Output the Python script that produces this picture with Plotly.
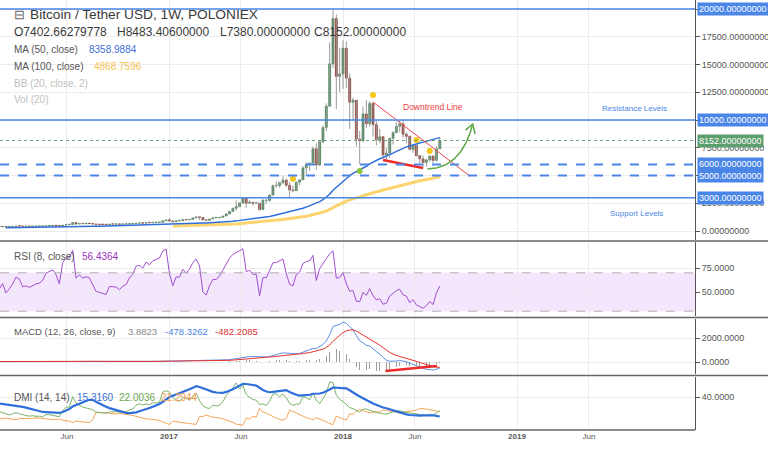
import numpy as np
import pandas as pd
import plotly.graph_objects as go

# ---------------- data (weekly POLONIEX BTC/USDT, weeks start on Monday) ----------------
first_week = "2015-02-16"
first_open = 235.0

closes_2015 = [244, 260, 274, 282, 260, 252, 260, 236, 222, 226, 240, 241, 237, 238, 230, 224, 232, 245, 250, 261,
               293, 276, 289, 282, 264, 260, 226, 229, 238, 230, 231, 234, 240, 245, 270, 284, 314, 385, 330, 325,
               370, 390, 435, 440, 420, 430]
highs_2015 = [248, 280, 298, 298, 296, 272, 262, 262, 240, 238, 242, 246, 245, 242, 241, 230, 237, 253, 254, 272,
              311, 294, 294, 298, 287, 272, 264, 232, 240, 245, 236, 236, 242, 252, 275, 298, 335, 460, 395, 345,
              378, 420, 468, 470, 458, 440]
lows_2015 = [230, 235, 258, 268, 256, 236, 240, 232, 214, 218, 216, 232, 232, 233, 226, 221, 222, 231, 240, 248,
             262, 270, 273, 278, 257, 255, 195, 198, 225, 228, 222, 225, 234, 222, 244, 250, 262, 300, 270, 240,
             300, 345, 360, 330, 320, 380]

closes_2016 = [430, 380, 402, 370, 385, 405, 438, 433, 411, 414, 410, 416, 420, 422, 429, 450, 455, 461, 455, 443,
               530, 575, 580, 760, 630, 670, 650, 665, 660, 624, 590, 585, 580, 575, 610, 608, 608, 600, 612, 617,
               640, 655, 700, 705, 700, 740, 735, 765, 775, 790, 920, 1000]
highs_2016 = [462, 436, 412, 400, 395, 420, 445, 440, 440, 428, 420, 432, 428, 436, 432, 462, 470, 468, 462, 456,
              535, 585, 600, 780, 770, 705, 705, 680, 675, 665, 625, 605, 590, 590, 615, 625, 612, 610, 615, 620,
              645, 660, 708, 740, 725, 752, 745, 775, 780, 795, 940, 1005]
lows_2016 = [370, 330, 340, 320, 340, 345, 395, 370, 360, 385, 370, 395, 380, 398, 390, 415, 420, 425, 420, 410,
             438, 520, 560, 580, 540, 600, 620, 640, 645, 600, 480, 575, 565, 570, 570, 600, 600, 590, 595, 605,
             615, 625, 650, 680, 690, 690, 725, 730, 760, 770, 790, 890]

closes_2017 = [900, 830, 920, 920, 1020, 1000, 1050, 1180, 1270, 1230, 1000, 960, 1080, 1180, 1180, 1240, 1350,
               1535, 1771, 2041, 2196, 2518, 2958, 2507, 2589, 2501, 2501, 1929, 2754, 2757, 3232, 4073, 4090, 4354,
               4582, 4122, 3700, 3630, 4403, 4611, 5680, 6008, 6130, 7407, 5950, 8040, 9330, 11246, 15059, 19140,
               13925, 14156]
highs_2017 = [1150, 930, 935, 930, 1030, 1070, 1065, 1185, 1280, 1330, 1260, 1070, 1100, 1210, 1210, 1250, 1360,
              1600, 1800, 2100, 2760, 2580, 2980, 2980, 2770, 2600, 2650, 2550, 2900, 2800, 3300, 4200, 4480, 4450,
              4990, 4700, 4400, 4100, 4450, 4650, 5860, 6200, 6150, 7600, 7880, 8100, 9500, 11500, 17000, 19900,
              19500, 16500]
lows_2017 = [810, 750, 820, 880, 915, 940, 990, 1040, 1170, 990, 950, 890, 930, 1080, 1150, 1170, 1240,
             1340, 1550, 1710, 1850, 2150, 2500, 2100, 2450, 2280, 2450, 1840, 1900, 2440, 2620, 3200, 3900, 3900,
             4200, 3970, 2950, 3500, 3680, 4100, 4600, 5100, 5400, 6100, 5500, 5850, 7900, 9000, 11200, 14700,
             11000, 12500]

closes_2018 = [16477, 13772, 11600, 11786, 8277, 8129, 10551, 9665, 11489, 9578, 8223, 8495, 6844, 7023, 8355,
               8865, 9419, 9654, 8714, 8528, 7355, 7720, 6786, 6500, 6173, 6404, 6754, 6357, 7402.66279778, 8152.0]
highs_2018 = [17200, 17100, 14200, 12000, 11800, 9000, 11200, 11800, 11700, 11600, 9900, 9200, 8500, 7500, 8400,
              9000, 9800, 9990, 9900, 8900, 8600, 7800, 7780, 6800, 6800, 6500, 6800, 6800, 7650, 8483.406]
lows_2018 = [12800, 12900, 9200, 10000, 7600, 6000, 8000, 9300, 9400, 8500, 7700, 7900, 6600, 6400, 6600,
             7800, 8800, 8900, 8400, 7900, 7300, 7050, 6700, 6100, 5800, 5800, 6250, 6100, 6280, 7380.0]

# horizontal levels drawn on the chart
resistance_levels = [20000, 10000]
dashed_levels = [6000, 5000]
support_levels = [3000]
last_price = 8152.0

# legend texts
header_title = "Bitcoin / Tether USD, 1W, POLONIEX"
ohlc_texts = ["O7402.66279778", "H8483.40600000", "L7380.00000000", "C8152.00000000"]
ma50_value, ma100_value = "8358.9884", "4868.7596"
rsi_value = "56.4364"
macd_values = ["3.8823", "-478.3262", "-482.2085"]
dmi_values = ["15.3160", "22.0036", "21.2944"]

# user drawings (date, price)
yellow_points = [("2017-09-18", 4700), ("2018-03-05", 12250), ("2018-06-04", 8200), ("2018-07-02", 7200)]
green_points = [("2018-02-05", 5400)]
downtrend_line = [("2018-03-05", 11620), ("2018-09-24", 4955)]
support_trend = [("2018-03-26", 6396), ("2018-06-18", 5676)]
arrow_curve = [("2018-06-27", 5586), ("2018-09-07", 5676), ("2018-09-30", 9640)]
macd_trend = [("2018-03-31", -750), ("2018-07-17", -333)]

tick_dates = ["2016-06-01", "2017-01-01", "2017-06-01", "2018-01-01", "2018-06-01", "2019-01-01", "2019-06-01"]
tick_texts = ["Jun", "<b>2017</b>", "Jun", "<b>2018</b>", "Jun", "<b>2019</b>", "Jun"]

# ---------------- series ----------------
closes = closes_2015 + closes_2016 + closes_2017 + closes_2018
highs = highs_2015 + highs_2016 + highs_2017 + highs_2018
lows = lows_2015 + lows_2016 + lows_2017 + lows_2018
dates = pd.date_range(first_week, periods=len(closes), freq="7D")
close = pd.Series(closes, index=dates, dtype=float)
open_ = close.shift(1).fillna(first_open)
high = pd.Series(np.maximum(np.array(highs, float), np.maximum(open_.values, close.values)), index=dates)
low = pd.Series(np.minimum(np.array(lows, float), np.minimum(open_.values, close.values)), index=dates)


def rma(s, n):
    return s.ewm(alpha=1.0 / n, adjust=False).mean()


ma50 = close.rolling(50).mean()
ma100 = close.rolling(100).mean()

delta = close.diff().fillna(0)
rsi = 100 - 100 / (1 + rma(delta.clip(lower=0), 8) / rma((-delta).clip(lower=0), 8))

macd = close.ewm(span=12, adjust=False).mean() - close.ewm(span=26, adjust=False).mean()
signal = macd.ewm(span=9, adjust=False).mean()
hist = macd - signal

up = high.diff().fillna(0)
dn = (-low.diff()).fillna(0)
pdm = pd.Series(np.where((up > dn) & (up > 0), up, 0.0), index=dates)
mdm = pd.Series(np.where((dn > up) & (dn > 0), dn, 0.0), index=dates)
tr = pd.concat([high - low, (high - close.shift()).abs(), (low - close.shift()).abs()], axis=1).max(axis=1)
atr = rma(tr, 14)
pdi = 100 * rma(pdm, 14) / atr
mdi = 100 * rma(mdm, 14) / atr
dx = 100 * (pdi - mdi).abs() / (pdi + mdi)
adx = rma(dx.fillna(0), 14)

# ---------------- geometry ----------------
W, H = 768, 454
ML, MR, MT, MB = 0, 73, 0, 24
PW, PH = W - ML - MR, H - MT - MB


def pxx(x):
    return x / PW


def pxy(y):
    return 1 - y / PH


px_per_day = (343 - 169) / 365.0
t0 = pd.Timestamp("2017-01-01")
x_range = [t0 - pd.Timedelta(days=169 / px_per_day), t0 + pd.Timedelta(days=(PW - 169) / px_per_day)]

price_per_px = 20000 / 222.0
main_rng = [(231 - 240) * price_per_px, (231 - 0) * price_per_px]
rsi_rng = [75 - (316 - 268) * 25 / 24, 75 + (268 - 242) * 25 / 24]
macd_rng = [(362 - 374) * 2000 / 24, (362 - 319) * 2000 / 24]
dmi_rng = [40 - (430 - 397) / 0.78, 40 + (397 - 377) / 0.78]

UP, DOWN = "#3f8a50", "#9c3324"
BLUE_LVL = "#4a86e8"
GRID = "#ececec"
AX = "#555555"
FONT = "Liberation Sans, Arial, sans-serif"

fig = go.Figure()

# ---- main pane: wicks
wx, wy = [], []
for d, lo, hi in zip(dates, low, high):
    wx += [d, d, None]
    wy += [lo, hi, None]
fig.add_trace(go.Scatter(x=wx, y=wy, mode="lines", line=dict(color="#9a9a9a", width=1),
                         xaxis="x", yaxis="y", hoverinfo="skip"))
# bodies
inc = (close >= open_).values
fig.add_trace(go.Bar(x=dates, y=np.maximum((close - open_).abs().values, 45),
                     base=np.minimum(open_.values, close.values),
                     marker=dict(color=np.where(inc, UP, DOWN).tolist(),
                                 line=dict(color=np.where(inc, "#2c6a3a", "#6e2118").tolist(), width=0.5)),
                     width=4.3 * 86400000, xaxis="x", yaxis="y", hoverinfo="skip"))
fig.add_trace(go.Scatter(x=dates, y=ma100, mode="lines", line=dict(color="#fcd46e", width=3),
                         xaxis="x", yaxis="y", hoverinfo="skip"))
fig.add_trace(go.Scatter(x=dates, y=ma50, mode="lines", line=dict(color="#2f6fdb", width=1.5),
                         xaxis="x", yaxis="y", hoverinfo="skip"))

# drawings
fig.add_trace(go.Scatter(x=[d for d, _ in downtrend_line], y=[p for _, p in downtrend_line], mode="lines",
                         line=dict(color="#f0454b", width=1), xaxis="x", yaxis="y", hoverinfo="skip"))
fig.add_trace(go.Scatter(x=[d for d, _ in support_trend], y=[p for _, p in support_trend], mode="lines",
                         line=dict(color="#ee2a2a", width=2.5), xaxis="x", yaxis="y", hoverinfo="skip"))
# curved green arrow (quadratic bezier)
cx = np.array([pd.Timestamp(d).value for d, _ in arrow_curve], dtype=float)
cy = np.array([p for _, p in arrow_curve], dtype=float)
tt = np.linspace(0, 1, 40)
bx = (1 - tt) ** 2 * cx[0] + 2 * (1 - tt) * tt * cx[1] + tt ** 2 * cx[2]
by = (1 - tt) ** 2 * cy[0] + 2 * (1 - tt) * tt * cy[1] + tt ** 2 * cy[2]
fig.add_trace(go.Scatter(x=pd.to_datetime(bx), y=by, mode="lines", line=dict(color="#5fa847", width=1.5),
                         xaxis="x", yaxis="y", hoverinfo="skip"))
head_t, head_p = pd.Timestamp(int(cx[2])), cy[2]
fig.add_trace(go.Scatter(x=[head_t - pd.Timedelta(days=15), head_t, head_t + pd.Timedelta(days=5)],
                         y=[head_p - 550, head_p, head_p - 900], mode="lines",
                         line=dict(color="#5fa847", width=1.5), xaxis="x", yaxis="y", hoverinfo="skip"))
fig.add_trace(go.Scatter(x=[d for d, _ in yellow_points], y=[p for _, p in yellow_points], mode="markers",
                         marker=dict(color="#f5c518", size=6), xaxis="x", yaxis="y", hoverinfo="skip"))
fig.add_trace(go.Scatter(x=[d for d, _ in green_points], y=[p for _, p in green_points], mode="markers",
                         marker=dict(color="#8cc63f", size=6), xaxis="x", yaxis="y", hoverinfo="skip"))

# ---- RSI pane
fig.add_trace(go.Scatter(x=dates, y=rsi, mode="lines", line=dict(color="#a04fcf", width=1),
                         xaxis="x2", yaxis="y2", hoverinfo="skip"))
# ---- MACD pane
fig.add_trace(go.Bar(x=dates, y=hist, marker=dict(color="#9e9e9e", line=dict(width=0)), width=1.6 * 86400000,
                     xaxis="x3", yaxis="y3", hoverinfo="skip"))
fig.add_trace(go.Scatter(x=dates, y=macd, mode="lines", line=dict(color="#5b8fe8", width=1),
                         xaxis="x3", yaxis="y3", hoverinfo="skip"))
fig.add_trace(go.Scatter(x=dates, y=signal, mode="lines", line=dict(color="#e8322e", width=1),
                         xaxis="x3", yaxis="y3", hoverinfo="skip"))
fig.add_trace(go.Scatter(x=[d for d, _ in macd_trend], y=[p for _, p in macd_trend], mode="lines",
                         line=dict(color="#ee2a2a", width=2.5), xaxis="x3", yaxis="y3", hoverinfo="skip"))
# ---- DMI pane
fig.add_trace(go.Scatter(x=dates, y=mdi, mode="lines", line=dict(color="#f5a55a", width=1),
                         xaxis="x4", yaxis="y4", hoverinfo="skip"))
fig.add_trace(go.Scatter(x=dates, y=pdi, mode="lines", line=dict(color="#79b369", width=1),
                         xaxis="x4", yaxis="y4", hoverinfo="skip"))
fig.add_trace(go.Scatter(x=dates, y=adx, mode="lines", line=dict(color="#2f6fdb", width=2.2),
                         xaxis="x4", yaxis="y4", hoverinfo="skip"))

# ---------------- axes ----------------
panes = {  # pixel top, pixel bottom
    "": (0, 240), "2": (242, 316), "3": (319, 374), "4": (377, 430)}
ranges = {"": main_rng, "2": rsi_rng, "3": macd_rng, "4": dmi_rng}
main_ticks = [i * 2500 for i in range(9)]
boxed = set(resistance_levels + dashed_levels + support_levels)
ytv = {"": main_ticks, "2": [50, 75], "3": [0, 2000], "4": [40]}
ytt = {"": [("" if v in boxed else f"{v:.8f}") for v in main_ticks],
       "2": ["50.0000", "75.0000"], "3": ["0.0000", "2000.0000"], "4": ["40.0000"]}

layout = dict(width=W, height=H, margin=dict(l=ML, r=MR, t=MT, b=MB), showlegend=False,
              paper_bgcolor="white", plot_bgcolor="white", bargap=0, hovermode=False,
              font=dict(family=FONT, color=AX))
for k, (top, bot) in panes.items():
    layout["xaxis" + k] = dict(range=x_range, type="date", anchor="y" + k, domain=[0, 1],
                               showgrid=True, gridcolor=GRID, gridwidth=1, tickvals=tick_dates,
                               ticktext=tick_texts, showticklabels=(k == "4"), ticks="",
                               tickfont=dict(size=8, color=AX), zeroline=False, showline=False,
                               fixedrange=True, **({} if k == "" else {"matches": "x"}))
    layout["yaxis" + k] = dict(range=ranges[k], domain=[pxy(bot), pxy(top)], anchor="x" + k, side="right",
                               tickvals=ytv[k], ticktext=ytt[k], showgrid=True, gridcolor=GRID,
                               zeroline=False, showline=True, linecolor=AX, linewidth=1, ticks="outside",
                               ticklen=4, tickcolor=AX, tickfont=dict(size=9, color=AX), fixedrange=True)
fig.update_layout(**layout)

shapes = []
# RSI band and dashed bounds
shapes.append(dict(type="rect", xref="paper", yref="y2", x0=0, x1=1, y0=30, y1=70,
                   fillcolor="#f4e6fc", line=dict(width=0), layer="below"))
for v in (70, 30):
    shapes.append(dict(type="line", xref="paper", yref="y2", x0=0, x1=1, y0=v, y1=v,
                       line=dict(color="#b0b0b0", width=1, dash="dash")))
# price levels
for v in resistance_levels + support_levels:
    shapes.append(dict(type="line", xref="paper", yref="y", x0=0, x1=1, y0=v, y1=v,
                       line=dict(color=BLUE_LVL, width=1.5)))
for v in dashed_levels:
    shapes.append(dict(type="line", xref="paper", yref="y", x0=0, x1=1, y0=v, y1=v,
                       line=dict(color=BLUE_LVL, width=2, dash="dash")))
shapes.append(dict(type="line", xref="paper", yref="y", x0=0, x1=1, y0=last_price, y1=last_price,
                   line=dict(color="#6aa57a", width=1, dash="dot")))
# pane separators
for ysep in (241, 317.5, 375.5, 430):
    shapes.append(dict(type="line", xref="paper", yref="paper", x0=0, x1=pxx(W) if ysep != 430 else 1,
                       y0=pxy(ysep), y1=pxy(ysep), line=dict(color="#666666", width=1.5)))
fig.update_layout(shapes=shapes)

ann = []


def text(x, y, s, size=10, color=AX, anchor="left", **kw):
    ann.append(dict(xref="paper", yref="paper", x=pxx(x), y=pxy(y), text=s, showarrow=False,
                    xanchor=anchor, yanchor="middle", font=dict(size=size, color=color, family=FONT), **kw))


text(12, 15, "⊟", size=13, color="#666")
text(28, 15, header_title, size=13.7, color="#3a3a3a")
for xx, s in zip([12, 115, 218, 312], ohlc_texts):
    text(xx, 32, s, size=12, color="#3a3a3a")
text(12, 49, "MA (50, close)", size=10)
text(87, 49, ma50_value, size=10, color="#3d6fd8")
text(12, 66, "MA (100, close)", size=10)
text(92, 66, ma100_value, size=10, color="#f5c24f")
text(12, 83, "BB (20, close, 2)", size=10, color="#c0c0c0")
text(12, 100, "Vol (20)", size=10, color="#c0c0c0")

text(433, 107, "Downtrend Line", size=8.5, color="#f03c3c", anchor="center")
text(634, 108, "Resistance Levels", size=8, color=BLUE_LVL, anchor="center")
text(636, 213, "Support Levels", size=8, color=BLUE_LVL, anchor="center")

text(12, 256, "RSI (8, close)", size=10)
text(80, 256, rsi_value, size=10, color="#9933bb")
text(12, 331, "MACD (12, 26, close, 9)", size=9.5)
for xx, s, c in zip([126, 163, 213], macd_values, ["#888888", "#4a7fe0", "#e03030"]):
    text(xx, 331, s, size=9.5, color=c)
text(12, 397, "DMI (14, 14)", size=10)
for xx, s, c in zip([75, 117, 159], dmi_values, ["#3a6fd8", "#6aa84f", "#f39c4a"]):
    text(xx, 397, s, size=10, color=c)

# right-axis price boxes
boxes = [(v, BLUE_LVL) for v in resistance_levels] + [(last_price, "#5c9e6e")] + \
        [(v, BLUE_LVL) for v in dashed_levels + support_levels]
for v, c in boxes:
    ann.append(dict(xref="paper", yref="y", x=pxx(697), y=v, text=f"{v:.8f}", showarrow=False,
                    xanchor="left", yanchor="middle", bgcolor=c, borderpad=1,
                    font=dict(size=9, color="white", family=FONT)))
fig.update_layout(annotations=ann)

fig.write_html("out.html", config={"displayModeBar": False, "staticPlot": True})
